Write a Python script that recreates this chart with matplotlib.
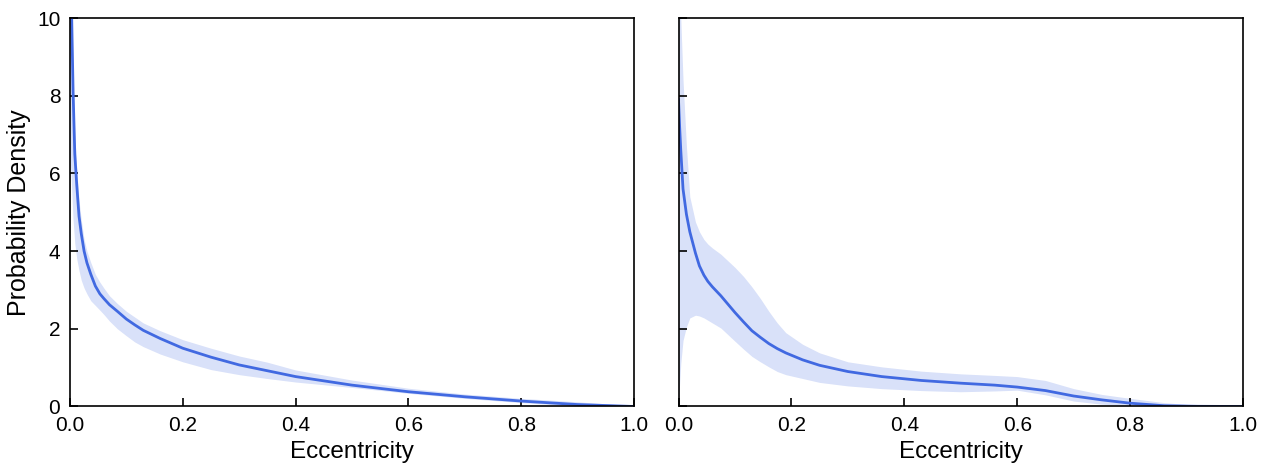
import matplotlib
matplotlib.use("Agg")
import matplotlib.pyplot as plt

plt.rcParams['font.family'] = ['Liberation Sans', 'DejaVu Sans']

# Left panel
left_x = [0.0, 0.003, 0.0055, 0.0085, 0.012, 0.016, 0.02, 0.025, 0.03, 0.037, 0.045, 0.053,
          0.06, 0.07, 0.084, 0.1, 0.115, 0.13, 0.16, 0.2, 0.25, 0.3, 0.35, 0.4, 0.5, 0.6, 0.7, 0.8, 0.9, 1.0]
left_med = [12.0, 10.0, 8.1, 6.5, 5.7, 4.9, 4.45, 4.0, 3.7, 3.4, 3.1, 2.9,
            2.78, 2.62, 2.45, 2.25, 2.1, 1.96, 1.75, 1.5, 1.27, 1.07, 0.92, 0.77, 0.55, 0.38, 0.25, 0.14, 0.05, 0.0]
left_up = [12.0, 10.5, 8.5, 7.0, 6.1, 5.3, 4.8, 4.3, 4.0, 3.7, 3.4, 3.2,
           3.05, 2.85, 2.65, 2.45, 2.3, 2.15, 1.95, 1.72, 1.5, 1.3, 1.14, 0.94, 0.68, 0.47, 0.32, 0.21, 0.12, 0.02]
left_lo = [6.5, 5.6, 4.8, 4.2, 3.8, 3.5, 3.25, 3.05, 2.9, 2.72, 2.6, 2.48,
           2.37, 2.2, 2.0, 1.82, 1.66, 1.54, 1.35, 1.15, 0.95, 0.82, 0.72, 0.63, 0.49, 0.34, 0.21, 0.1, 0.01, 0.0]

# Right panel
right_x = [0.0, 0.002, 0.004, 0.008, 0.014, 0.02, 0.03, 0.037, 0.045, 0.052, 0.06, 0.075, 0.1, 0.115,
           0.13, 0.145, 0.16, 0.175, 0.19, 0.22, 0.25, 0.3, 0.36, 0.43, 0.5, 0.56, 0.6, 0.65, 0.7,
           0.75, 0.8, 0.86, 0.92, 1.0]
right_med = [7.9, 7.2, 6.6, 5.6, 4.95, 4.5, 3.95, 3.62, 3.38, 3.22, 3.08, 2.85, 2.42, 2.18,
             1.95, 1.78, 1.62, 1.49, 1.38, 1.2, 1.06, 0.9, 0.77, 0.67, 0.6, 0.55, 0.5, 0.41, 0.27,
             0.17, 0.085, 0.02, 0.005, 0.0]
right_up = [12.0, 11.0, 10.0, 8.4, 6.7, 5.4, 4.75, 4.5, 4.3, 4.18, 4.08, 3.92, 3.58, 3.35,
            3.08, 2.78, 2.45, 2.15, 1.9, 1.6, 1.38, 1.15, 1.02, 0.91, 0.84, 0.8, 0.77, 0.67, 0.46,
            0.31, 0.21, 0.1, 0.03, 0.0]
right_lo = [0.0, 0.6, 1.1, 1.7, 2.05, 2.28, 2.35, 2.33, 2.28, 2.22, 2.15, 2.02, 1.68, 1.48,
            1.29, 1.15, 1.02, 0.9, 0.82, 0.72, 0.62, 0.53, 0.46, 0.41, 0.38, 0.4, 0.42, 0.3, 0.14,
            0.06, 0.02, 0.0, 0.0, 0.0]

x_ticks = [0.0, 0.2, 0.4, 0.6, 0.8, 1.0]
y_ticks = [0, 2, 4, 6, 8, 10]
xlabel = "Eccentricity"
ylabel = "Probability Density"

color = "#4169E1"

fig = plt.figure(figsize=(12.68, 4.73), dpi=100)
ax1 = fig.add_axes([0.0552, 0.1406, 0.4448, 0.8213])
ax2 = fig.add_axes([0.5351, 0.1406, 0.4452, 0.8213])

panels = [(ax1, left_x, left_med, left_up, left_lo), (ax2, right_x, right_med, right_up, right_lo)]
for ax, x, m, u, l in panels:
    ax.fill_between(x, l, u, color=color, alpha=0.2, linewidth=0)
    ax.plot(x, m, color=color, linewidth=2.0)
    ax.set_xlim(0, 1)
    ax.set_ylim(0, 10)
    ax.set_xticks(x_ticks)
    ax.set_xticklabels([f"{t:.1f}" for t in x_ticks])
    ax.set_yticks(y_ticks)
    ax.tick_params(direction='in', length=6, width=1.2, labelsize=15)
    ax.tick_params(axis='x', pad=6.5)
    ax.tick_params(axis='y', pad=7)
    for s in ax.spines.values():
        s.set_linewidth(1.2)
    ax.set_xlabel(xlabel, fontsize=17.5, labelpad=5)

ax1.set_yticklabels([str(t) for t in y_ticks])
ax1.set_ylabel(ylabel, fontsize=18, labelpad=4)
ax2.set_yticklabels([])

fig.savefig("out.png", dpi=100)
